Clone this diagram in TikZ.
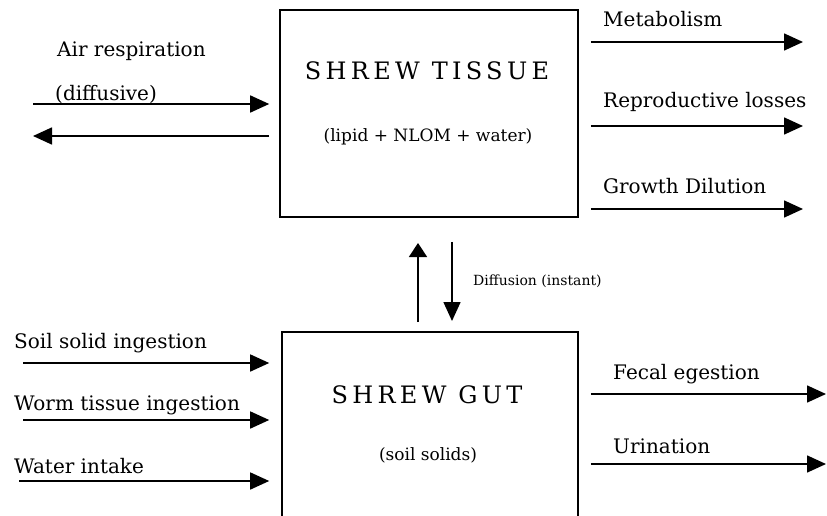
\documentclass[tikz,border=0pt]{standalone}
\usepackage{fontspec}
\setmainfont{DejaVu Serif}
\newfontfamily\titlefont[LetterSpace=18]{DejaVu Serif}
\usepackage{tikz}
\usetikzlibrary{arrows.meta}
\tikzset{>={Triangle[length=19pt,width=17pt]}}
\tikzset{
    flow/.style={->, line width=1.6pt},
    compartment/.style={draw, line width=1.6pt, rectangle, inner sep=0pt},
    flowlabel/.style={anchor=base west, inner sep=0pt, font=\fontsize{20}{24}\selectfont},
    boxtitle/.style={anchor=base, inner sep=0pt, font=\titlefont\fontsize{24}{28}\selectfont},
    boxnote/.style={anchor=base, inner sep=0pt, font=\fontsize{17}{20}\selectfont}
}

\begin{document}
\begin{tikzpicture}[x=1pt, y=-1pt]
                \useasboundingbox (0, 0) rectangle (827, 516);
                \clip (0, 0) rectangle (827, 516);
                \node[compartment, minimum width=298pt, minimum height=207pt] (tissue) at (429, 113.5) {};
                \node[compartment, minimum width=296pt, minimum height=268pt] (gut) at (430, 466) {};
                \node[boxtitle] (tissuetitle) at (427, 80) {SHREW TISSUE};
                \node[boxnote] (tissuenote) at (428, 142) {(lipid + NLOM + water)};
                \node[boxtitle] (guttitle) at (427, 403) {SHREW GUT};
                \node[boxnote] (gutnote) at (428, 460) {(soil solids)};

                \coordinate (airin) at (33, 104);
                \coordinate (airout) at (33, 136);
                \draw[flow, shorten >=10pt] (airin) -- (airin -| tissue.west);
                \draw[flow, shorten <=10pt] (airout -| tissue.west) -- (airout);
                \node[flowlabel] (airlabel) at (57, 57) {Air respiration};
                \node[flowlabel] (difflabel) at (55, 101) {(diffusive)};

                \coordinate (metab) at (803, 42);
                \coordinate (repro) at (803, 126);
                \coordinate (growth) at (803, 209);
                \draw[flow, shorten <=12pt] (metab -| tissue.east) -- (metab);
                \draw[flow, shorten <=12pt] (repro -| tissue.east) -- (repro);
                \draw[flow, shorten <=12pt] (growth -| tissue.east) -- (growth);
                \node[flowlabel] (metablabel) at (603, 27) {Metabolism};
                \node[flowlabel] (reprolabel) at (603, 108) {Reproductive losses};
                \node[flowlabel] (growthlabel) at (603, 193) {Growth Dilution};

                \coordinate (up) at (418, 243);
                \coordinate (down) at (452, 321);
                \draw[flow, >={Triangle[length=14pt,width=18pt]}, shorten <=9pt] (up |- gut.north) -- (up);
                \draw[flow, shorten <=24pt] (down |- tissue.south) -- (down);
                \node[anchor=base west, inner sep=0pt, font=\fontsize{14}{17}\selectfont] (difflab) at (473, 285) {Diffusion (instant)};

                \coordinate (soil) at (23, 363);
                \coordinate (worm) at (23, 420);
                \coordinate (water) at (19, 481);
                \draw[flow, shorten >=12pt] (soil) -- (soil -| gut.west);
                \draw[flow, shorten >=12pt] (worm) -- (worm -| gut.west);
                \draw[flow, shorten >=12pt] (water) -- (water -| gut.west);
                \node[flowlabel] (soillabel) at (14, 348) {Soil solid ingestion};
                \node[flowlabel] (wormlabel) at (14, 410) {Worm tissue ingestion};
                \node[flowlabel] (waterlabel) at (14, 473) {Water intake};

                \coordinate (fecal) at (826, 394);
                \coordinate (urine) at (826, 464);
                \draw[flow, shorten <=12pt] (fecal -| gut.east) -- (fecal);
                \draw[flow, shorten <=12pt] (urine -| gut.east) -- (urine);
                \node[flowlabel] (fecallabel) at (613, 379) {Fecal egestion};
                \node[flowlabel] (urinelabel) at (613, 453) {Urination};
            \end{tikzpicture}
\end{document}
